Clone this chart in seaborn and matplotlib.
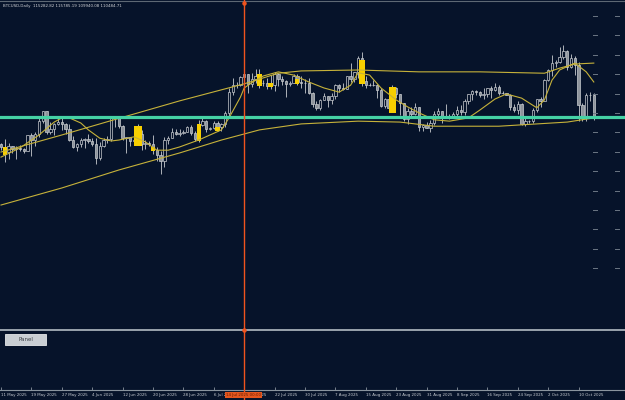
import numpy as np
import pandas as pd
import matplotlib
matplotlib.use("Agg")
import matplotlib.pyplot as plt
import matplotlib.transforms as mtransforms
from matplotlib.lines import Line2D
from matplotlib.patches import Rectangle
import seaborn as sns

# ---------------- data (prices in thousands USD) ----------------
start_date = "2025-05-11"
first_open = 104.6
closes = [104.1, 102.8, 104.2, 103.5, 103.7, 103.5, 103.2, 106.5, 105.6, 106.8, 109.6, 111.7, 107.3, 107.8, 109.0, 109.4, 108.9, 107.8, 105.6, 103.9, 104.6,
          105.6, 105.8, 105.4, 104.7, 101.5, 104.3, 105.6, 105.7, 110.3, 110.2, 108.6, 105.9, 106.1, 105.4, 105.6, 106.8, 104.6, 104.8, 104.6, 103.3, 102.2, 100.9, 105.6, 106.0, 107.3, 106.9, 107.1, 107.3, 108.4, 107.1,
          105.7, 108.8, 109.6, 107.9, 108.2, 109.2, 108.3, 108.9, 111.3, 115.9, 117.5, 117.4, 119.1, 119.8, 117.7, 118.7, 119.3, 117.9, 117.9, 117.3, 117.4, 119.9, 118.8, 118.4, 117.6, 117.9, 119.4, 118.0, 117.9, 117.8, 115.8,
          113.3, 112.5, 114.2, 115.0, 114.1, 115.0, 117.5, 116.7, 116.5, 119.3, 118.7, 120.2, 123.3, 118.4, 117.4, 117.5, 117.5, 116.3, 112.9, 114.3, 112.5, 116.9, 115.4, 113.5, 110.1, 111.8, 111.2, 112.6, 108.4, 108.8, 108.2,
          109.2, 111.2, 111.7, 110.7, 110.7, 110.2, 111.1, 112.1, 111.5, 113.9, 115.5, 116.1, 115.9, 115.3, 115.4, 116.8, 116.4, 117.1, 115.7, 115.7, 115.3, 112.7, 112.0, 113.3, 109.0, 109.7, 109.7, 112.1, 114.4, 114.0,
          118.6, 120.6, 122.3, 122.4, 123.5, 124.8, 121.4, 123.3, 121.7, 113.2, 110.6, 115.2, 115.3, 110.48]
highs = [104.9, 105.8, 104.9, 104.3, 104.2, 104.5, 103.7, 106.6, 107.1, 107.3, 110.7, 111.9, 111.7, 109.4, 109.3, 110.4, 110.7, 109.3, 108.9, 106.3, 104.9,
         105.9, 105.9, 106.8, 106.0, 105.9, 105.0, 105.9, 106.4, 110.6, 110.4, 110.4, 108.8, 106.2, 106.2, 106.0, 108.9, 107.7, 105.5, 105.2, 106.5, 104.0, 103.1, 106.1, 106.3, 108.1, 108.0, 107.8, 107.6, 108.5, 108.8,
         107.5, 109.8, 110.5, 109.8, 108.4, 109.7, 109.7, 109.2, 111.9, 116.8, 118.9, 118.2, 119.5, 123.2, 119.9, 120.1, 120.9, 120.9, 118.6, 118.9, 119.7, 120.2, 120.1, 119.5, 118.5, 118.3, 119.8, 119.8, 119.3, 118.8, 118.9,
         116.0, 114.0, 114.4, 115.7, 115.1, 115.7, 117.6, 117.7, 117.9, 119.3, 122.3, 120.3, 123.7, 124.5, 119.3, 117.9, 118.6, 117.6, 116.9, 114.6, 114.6, 117.4, 117.0, 115.6, 113.6, 112.4, 112.6, 113.5, 112.6, 108.9, 109.5,
         109.9, 111.7, 112.5, 111.8, 113.3, 111.2, 111.5, 112.8, 113.2, 114.3, 115.5, 116.3, 116.4, 116.1, 116.8, 116.9, 117.2, 117.9, 117.4, 116.1, 115.8, 115.5, 113.3, 114.0, 113.5, 110.4, 109.8, 112.4, 114.4, 114.8,
         118.7, 121.0, 123.9, 122.9, 125.6, 126.2, 125.1, 124.2, 123.8, 122.5, 113.5, 115.8, 116.0, 115.79]
lows = [103.3, 100.8, 101.4, 102.6, 101.4, 103.1, 102.6, 103.1, 102.0, 104.2, 106.1, 109.3, 106.8, 106.9, 106.6, 108.7, 107.6, 106.8, 105.4, 103.7, 103.1,
        103.9, 103.7, 104.9, 104.2, 100.4, 101.1, 103.9, 104.9, 105.3, 108.4, 108.2, 105.6, 102.7, 104.3, 104.5, 104.9, 103.4, 103.6, 104.2, 102.4, 100.9, 98.2, 99.6, 104.7, 105.9, 106.5, 106.3, 106.9, 107.2, 106.7,
        105.3, 105.1, 108.6, 107.3, 107.6, 107.8, 107.5, 107.5, 108.4, 110.6, 115.3, 116.9, 117.3, 118.9, 115.7, 117.0, 117.9, 116.8, 117.3, 116.5, 116.5, 116.1, 117.3, 117.4, 114.8, 117.2, 117.8, 117.4, 116.9, 115.8, 115.5,
        112.7, 112.0, 112.1, 114.1, 112.7, 113.4, 114.3, 115.9, 116.3, 116.5, 118.1, 118.2, 118.9, 117.2, 116.8, 117.2, 117.3, 114.7, 112.7, 112.4, 112.4, 111.7, 114.6, 110.9, 109.7, 109.0, 110.4, 110.9, 107.5, 107.4, 108.1,
        107.3, 108.7, 110.8, 109.3, 110.3, 110.0, 110.2, 110.6, 110.9, 110.9, 113.4, 114.2, 115.3, 114.8, 114.4, 114.9, 114.7, 116.2, 115.2, 115.4, 115.2, 112.0, 111.6, 111.1, 108.7, 108.6, 109.1, 109.3, 111.6, 112.7,
        113.9, 118.4, 119.3, 121.3, 122.2, 123.1, 120.6, 121.1, 119.7, 109.6, 109.7, 109.7, 113.9, 109.94]

# highlighted (gold) candles: date, top, bottom, width in days
hl_dates = ["2025-05-12", "2025-06-16", "2025-06-20", "2025-07-02", "2025-07-07", "2025-07-18", "2025-07-21", "2025-07-28", "2025-08-14", "2025-08-22"]
hl_top = [104.0, 108.5, 104.0, 109.0, 108.3, 119.8, 117.9, 118.7, 122.9, 117.0]
hl_bottom = [102.2, 104.2, 103.1, 105.3, 107.5, 117.2, 117.0, 117.7, 117.7, 111.4]
hl_width = [1.2, 2.0, 1.1, 1.0, 1.4, 1.4, 1.4, 1.1, 1.4, 1.7]

# indicator lines
ma_dates = ["2025-05-11", "2025-05-16", "2025-05-21", "2025-05-25", "2025-05-27", "2025-05-29", "2025-06-01", "2025-06-03",
            "2025-06-06", "2025-06-09", "2025-06-11", "2025-06-15", "2025-06-18", "2025-06-21", "2025-06-24", "2025-06-27",
            "2025-06-30", "2025-07-02", "2025-07-05", "2025-07-08", "2025-07-10", "2025-07-13", "2025-07-14", "2025-07-17",
            "2025-07-19", "2025-07-23", "2025-07-27", "2025-07-31", "2025-08-04", "2025-08-08", "2025-08-11", "2025-08-13",
            "2025-08-16", "2025-08-19", "2025-08-23", "2025-08-26", "2025-08-29", "2025-09-02", "2025-09-06", "2025-09-11",
            "2025-09-14", "2025-09-18", "2025-09-21", "2025-09-25", "2025-09-29", "2025-10-01", "2025-10-03", "2025-10-05",
            "2025-10-09", "2025-10-12", "2025-10-14"]
ma_vals = [101.8, 103.8, 106.6, 109.4, 110.3, 110.3, 109.2, 107.7,
           105.9, 105.3, 105.5, 106.2, 105.1, 103.3, 103.3, 104.0,
           104.9, 105.5, 106.6, 107.7, 110.3, 114.8, 116.8, 118.5,
           119.4, 120.3, 119.6, 118.1, 116.8, 115.9, 117.4, 120.1,
           119.6, 116.8, 114.2, 112.7, 111.4, 109.9, 109.6, 110.3,
           112.0, 114.4, 115.5, 114.6, 112.5, 114.2, 118.5, 120.7,
           122.2, 120.3, 118.1]
upper_dates = ["2025-05-11", "2025-05-27", "2025-06-11", "2025-06-27", "2025-07-14", "2025-07-23", "2025-07-29", "2025-08-13", "2025-08-29", "2025-09-14", "2025-10-01", "2025-10-05", "2025-10-09", "2025-10-14"]
upper_vals = [102.9, 106.6, 110.2, 114.0, 117.7, 120.0, 120.5, 120.7, 120.3, 120.3, 120.0, 121.1, 122.0, 122.2]
lower_dates = ["2025-05-11", "2025-05-27", "2025-06-11", "2025-06-27", "2025-07-08", "2025-07-18", "2025-07-29", "2025-08-13", "2025-08-24", "2025-09-02", "2025-09-19", "2025-10-07", "2025-10-14"]
lower_vals = [91.4, 95.1, 99.0, 102.7, 105.5, 107.7, 109.0, 109.6, 109.4, 108.5, 108.5, 109.4, 110.3]

level_price = 110.5          # horizontal level line
marker_date = "2025-07-14"   # vertical cursor line
marker_label = "14 Jul 2025 00:00"
title_text = "BTCUSD,Daily  115282.82 115785.19 109940.08 110484.71"
axis_tick_step_days = 8

# ---------------- styling ----------------
BG = "#06132a"
CANDLE = "#c8ccd0"
BEAR = "#8e949c"
GOLD = "#f7cf00"
LINE = "#c6b23a"
CYAN = "#45d2a5"
ORANGE = "#f0541e"
GRID = "#8a949e"
FS = 2.9

plt.rcParams["font.family"] = ["Liberation Sans Narrow", "DejaVu Sans"]

W, H = 625, 400
fig = plt.figure(figsize=(6.25, 4), dpi=100, facecolor=BG)
ax = fig.add_axes([0, 1 - 329 / H, 1, 327 / H], facecolor=BG)
sub = fig.add_axes([0, 1 - 390 / H, 1, 59 / H], facecolor=BG)

start = pd.Timestamp(start_date)
n = len(closes)
xi = np.arange(n)
dates = pd.date_range(start, periods=n, freq="D")
c = np.array(closes)
h = np.array(highs)
l = np.array(lows)
o = np.concatenate([[first_open], c[:-1]])

px_per_day = 3.8
xlim = (-1 / px_per_day, (W - 1) / px_per_day)
for a in (ax, sub):
    a.set_xlim(*xlim)
    for s in a.spines.values():
        s.set_visible(False)
ax.set_ylim(64.5, 135.455)
ax.set_xticks([]); ax.set_yticks([])

def day(ds):
    return np.array([(pd.Timestamp(d) - start).days for d in ds])

# candles
ax.vlines(xi, l, h, color=CANDLE, lw=0.6, zorder=2)
up = c >= o
ax.bar(xi[up], (c - o)[up], bottom=o[up], width=0.62, facecolor=BG, edgecolor=CANDLE, lw=0.5, zorder=3)
ax.bar(xi[~up], (o - c)[~up], bottom=c[~up], width=0.62, facecolor=BEAR, edgecolor=CANDLE, lw=0.5, zorder=3)

# highlighted candles
ax.bar(day(hl_dates), np.array(hl_top) - np.array(hl_bottom), bottom=hl_bottom, width=hl_width,
       color=GOLD, lw=0, zorder=4)

# indicator lines
sns.lineplot(x=day(upper_dates), y=upper_vals, ax=ax, color=LINE, lw=0.8, zorder=5)
sns.lineplot(x=day(lower_dates), y=lower_vals, ax=ax, color=LINE, lw=0.8, zorder=5)
sns.lineplot(x=day(ma_dates), y=ma_vals, ax=ax, color=LINE, lw=0.8, zorder=5)
ax.set_xlabel(""); ax.set_ylabel("")

# horizontal level
ax.axhline(level_price, color=CYAN, lw=2.3, zorder=6)

# right price-scale dashes
tick_levels = 132.42 - 4.21 * np.arange(14)
bt = mtransforms.blended_transform_factory(fig.transFigure, ax.transData)
for lv in tick_levels:
    for x0, x1 in ((593, 597), (615, 619)):
        ax.add_line(Line2D([x0 / W, x1 / W], [lv, lv], transform=bt, color="#6c7784", lw=0.7, zorder=7))

# sub-window and time axis
sub.set_yticks([])
sub.spines["bottom"].set_visible(True)
sub.spines["bottom"].set_color(GRID)
sub.spines["bottom"].set_linewidth(0.8)
tick_days = np.arange(0, n, axis_tick_step_days)
sub.set_xticks(tick_days)
sub.set_xticklabels([dates[i].strftime("%-d %b %Y") for i in tick_days], ha="left")
sub.tick_params(axis="x", direction="in", length=2.5, width=0.6, color=GRID,
                labelsize=FS, labelcolor="#c8ccd2", pad=2)

# frame lines
fig.add_artist(Line2D([0, 1], [1 - 330 / H] * 2, transform=fig.transFigure, color="#9aa3ad", lw=1.4))
fig.add_artist(Line2D([0, 1], [1 - 1 / H] * 2, transform=fig.transFigure, color="#5d6874", lw=0.8))

# vertical cursor line across the whole window
md = day([marker_date])[0]
vt = mtransforms.blended_transform_factory(ax.transData, fig.transFigure)
fig.add_artist(Line2D([md, md], [0, 1], transform=vt, color=ORANGE, lw=1.0, zorder=10))
fig.add_artist(Line2D([md], [1 - 3 / H], transform=vt, marker="o", ms=2.2, color=ORANGE, zorder=10))
fig.add_artist(Line2D([md], [1 - 330 / H], transform=vt, marker="o", ms=2.2, color=ORANGE, zorder=10))
fig.text(243.5 / W, 1 - 395 / H, marker_label, ha="center", va="center", fontsize=FS, color="#6a1c00",
         zorder=11, bbox=dict(boxstyle="square,pad=0.35", fc="#e4561e", ec="none"))

# title
fig.text(3 / W, 1 - 6 / H, title_text, ha="left", va="center", fontsize=FS, color="#d2d4d8")

# Panel button
fig.add_artist(Rectangle((5 / W, 1 - 345 / H), 41 / W, 11 / H, transform=fig.transFigure,
                         fc="#c9ced3", ec="#e6e8ea", lw=0.6))
fig.text(25.5 / W, 1 - 339.5 / H, "Panel", ha="center", va="center", fontsize=4.0, color="#3a3f45")

fig.savefig("out.png", dpi=100, facecolor=BG)
